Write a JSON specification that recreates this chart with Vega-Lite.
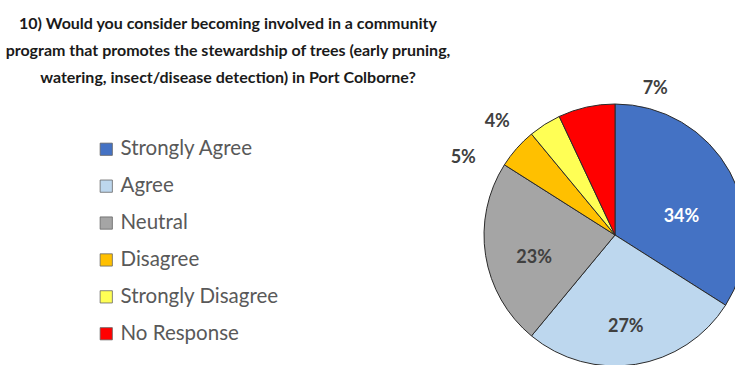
{
  "$schema": "https://vega.github.io/schema/vega-lite/v6.json",
  "autosize": {"type": "none"},
  "padding": {"left": 495, "top": 105, "right": 0, "bottom": 0},
  "width": 240,
  "height": 260,
  "background": "white",
  "config": {"view": {"stroke": null}, "font": "Lato"},
  "title": {
    "text": ["10) Would you consider becoming involved in a community", "program that promotes the stewardship of trees (early pruning,", "watering, insect/disease detection) in Port Colborne?"],
    "anchor": "start", "align": "center", "dx": -267, "offset": -6, "frame": "group",
    "fontSize": 16, "font": "Lato", "fontWeight": "bold", "color": "#1a1a1a", "lineHeight": 27
  },
  "data": {"values": [
    {"response": "Strongly Agree", "pct": 34, "label": "34%", "rank": 1},
    {"response": "Agree", "pct": 27, "label": "27%", "rank": 2},
    {"response": "Neutral", "pct": 23, "label": "23%", "rank": 3},
    {"response": "Disagree", "pct": 5, "label": "5%", "rank": 4},
    {"response": "Strongly Disagree", "pct": 4, "label": "4%", "rank": 5},
    {"response": "No Response", "pct": 7, "label": "7%", "rank": 6}
  ]},
  "encoding": {
    "theta": {"field": "pct", "type": "quantitative", "stack": true},
    "order": {"field": "rank", "type": "quantitative"},
    "detail": {"field": "response", "type": "nominal"}
  },
  "layer": [
    {
      "mark": {"type": "arc", "radius": 131, "stroke": "#2b2b2b", "strokeWidth": 1},
      "encoding": {
        "color": {
          "field": "response", "type": "nominal",
          "scale": {
            "domain": ["Strongly Agree", "Agree", "Neutral", "Disagree", "Strongly Disagree", "No Response"],
            "range": ["#4472C4", "#BDD7EE", "#A5A5A5", "#FFC000", "#FFFF55", "#FF0000"]
          },
          "legend": {
            "title": null, "orient": "none", "legendX": -399, "legendY": 34,
            "symbolType": "square", "symbolSize": 150, "symbolStrokeWidth": 0.8, "symbolStrokeColor": "#666666",
            "labelFont": "Lato", "labelFontSize": 20.5, "labelColor": "#595959", "labelOffset": 4,
            "rowPadding": 15.9, "labelLimit": 300
          }
        }
      }
    },
    {
      "mark": {"type": "text", "radius": 88, "dx": -3, "dy": 5, "font": "Lato", "fontWeight": "bold", "fontSize": 18, "fill": "#404040", "baseline": "middle"},
      "encoding": {"text": {"condition": {"test": "datum.response === 'Agree'", "field": "label", "type": "nominal"}, "value": ""}}
    },
    {
      "mark": {"type": "text", "radius": 88, "dx": 6, "dy": 9, "font": "Lato", "fontWeight": "bold", "fontSize": 18, "fill": "#404040", "baseline": "middle"},
      "encoding": {"text": {"condition": {"test": "datum.response === 'Neutral'", "field": "label", "type": "nominal"}, "value": ""}}
    },
    {
      "mark": {"type": "text", "radius": 69, "dx": 6, "dy": 15, "font": "Lato", "fontWeight": "bold", "fontSize": 18, "fill": "white", "baseline": "middle"},
      "encoding": {"text": {"condition": {"test": "datum.response === 'Strongly Agree'", "field": "label", "type": "nominal"}, "value": ""}}
    },
    {
      "mark": {"type": "text", "radius": 150, "dx": 73, "dy": 0, "font": "Lato", "fontWeight": "bold", "fontSize": 18, "fill": "#404040", "baseline": "middle"},
      "encoding": {"text": {"condition": {"test": "datum.response === 'No Response'", "field": "label", "type": "nominal"}, "value": ""}}
    },
    {
      "mark": {"type": "text", "radius": 160, "dx": -32, "dy": 22, "font": "Lato", "fontWeight": "bold", "fontSize": 18, "fill": "#404040", "baseline": "middle"},
      "encoding": {"text": {"condition": {"test": "datum.response === 'Strongly Disagree'", "field": "label", "type": "nominal"}, "value": ""}}
    },
    {
      "mark": {"type": "text", "radius": 165, "dx": -28, "dy": 32, "font": "Lato", "fontWeight": "bold", "fontSize": 18, "fill": "#404040", "baseline": "middle"},
      "encoding": {"text": {"condition": {"test": "datum.response === 'Disagree'", "field": "label", "type": "nominal"}, "value": ""}}
    }
  ]
}
